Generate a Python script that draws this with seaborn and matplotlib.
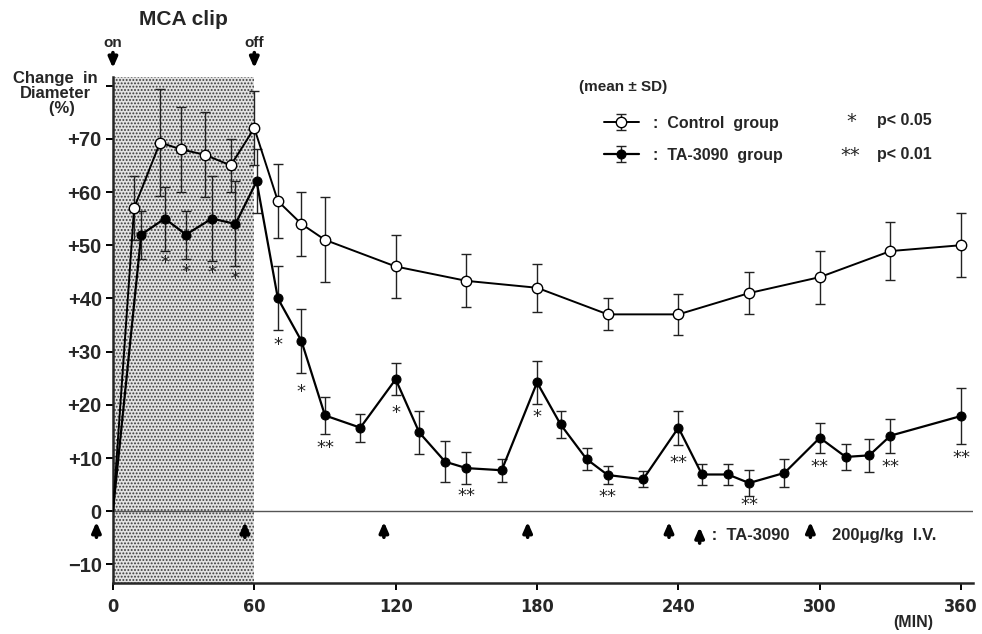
import numpy as np
import pandas as pd
import seaborn as sns
import matplotlib
matplotlib.use("Agg")
import matplotlib.pyplot as plt
from matplotlib.legend_handler import HandlerTuple

# ---------------- data ----------------
ctrl_t = [0, 9, 20, 29, 39, 50, 60, 70, 80, 90, 120, 150, 180, 210, 240, 270, 300, 330, 360]
ctrl_v = [0, 57, 69.3, 68, 67, 65, 72, 58.3, 54, 51, 46, 43.3, 42, 37, 37, 41, 44, 48.9, 50]
ctrl_sd = [0, 6, 10, 8, 8, 5, 7, 7, 6, 8, 6, 5, 4.5, 3, 3.8, 4, 5, 5.5, 6]

ta_t = [0, 12, 22, 31, 42, 52, 61, 70, 80, 90, 105, 120, 130, 141, 150, 165, 180, 190,
        201, 210, 225, 240, 250, 261, 270, 285, 300, 311, 321, 330, 360]
ta_v = [0, 52, 55, 52, 55, 54, 62, 40, 32, 18, 15.7, 24.8, 14.8, 9.3, 8.1, 7.7, 24.2, 16.3,
        9.8, 6.8, 6, 15.7, 6.9, 6.9, 5.3, 7.2, 13.8, 10.2, 10.5, 14.2, 17.9]
ta_sd = [0, 4.5, 6, 4.5, 8, 8, 6, 6, 6, 3.5, 2.6, 3, 4, 3.9, 3, 2.2, 4, 2.5,
         2, 1.7, 1.5, 3.2, 2, 2, 2.5, 2.7, 2.8, 2.5, 3.1, 3.2, 5.3]

sig_t = [22, 31, 42, 52, 70, 80, 90, 120, 150, 180, 210, 240, 270, 300, 330, 360]
sig_y = [46.6, 45, 44.7, 43.6, 31.2, 22.4, 11.8, 18.4, 2.8, 17.7, 2.6, 9, 1.1, 8.3, 8.3, 10]
sig_lbl = ['*', '*', '*', '*', '*', '*', '**', '*', '**', '*', '**', '**', '**', '**', '**', '**']

dose_t = [-7, 56, 115, 176, 236, 296]   # TA-3090 injection times

clip_on, clip_off = 0, 60
x_ticks = [0, 60, 120, 180, 240, 300, 360]
x_labels = ['0', '60', '120', '180', '240', '300', '360']
y_ticks = [-10, 0, 10, 20, 30, 40, 50, 60, 70, 80]
y_labels = ['\u221210', '0', '+10', '+20', '+30', '+40', '+50', '+60', '+70', '']

ctrl = pd.DataFrame({'t': ctrl_t, 'v': ctrl_v, 'sd': ctrl_sd})
ta = pd.DataFrame({'t': ta_t, 'v': ta_v, 'sd': ta_sd})

# ---------------- style ----------------
sns.set_theme(style='ticks')
plt.rcParams['font.family'] = ['Liberation Sans', 'DejaVu Sans']
plt.rcParams['hatch.linewidth'] = 0.9

fig = plt.figure(figsize=(9.82, 6.34), dpi=100)
ax = fig.add_axes([0.115, 0.0804, 0.8758, 0.798])

# stippled MCA clip period
ax.axvspan(clip_on, clip_off, facecolor='#e2e2e2', edgecolor='#3a3a3a',
           hatch='.....', linewidth=0, zorder=0)
ax.axhline(0, color='#555555', lw=1.0, zorder=1)

# error bars
eb_c = ax.errorbar(ctrl['t'][1:], ctrl['v'][1:], yerr=ctrl['sd'][1:], fmt='none',
                   ecolor='#222222', elinewidth=1.0, capsize=3.5, capthick=1.0, zorder=2)
eb_t = ax.errorbar(ta['t'][1:], ta['v'][1:], yerr=ta['sd'][1:], fmt='none',
                   ecolor='#222222', elinewidth=1.0, capsize=3.5, capthick=1.0, zorder=2)

# lines with markers (no marker at the origin)
sns.lineplot(data=ctrl, x='t', y='v', ax=ax, color='black', lw=1.4, marker='o',
             markersize=7.5, markerfacecolor='white', markeredgecolor='black',
             markeredgewidth=1.0, zorder=4, sort=False,
             markevery=list(range(1, len(ctrl_t))))
ln_c = ax.lines[-1]
sns.lineplot(data=ta, x='t', y='v', ax=ax, color='black', lw=1.6, marker='o',
             markersize=6.5, markerfacecolor='black', markeredgecolor='black',
             zorder=5, sort=False, markevery=list(range(1, len(ta_t))))
ln_t = ax.lines[-1]

# significance asterisks
for t, y, s in zip(sig_t, sig_y, sig_lbl):
    ax.text(t, y, s, ha='center', va='center', fontsize=13, family='DejaVu Sans',
            color='#222222')

# axes
ax.set_xlim(0, 365)
ax.set_ylim(-13.5, 81.6)
ax.set_xticks(x_ticks)
ax.set_xticklabels(x_labels, fontsize=13, fontweight='bold', family='DejaVu Sans',
                   fontstretch='condensed')
ax.set_yticks(y_ticks)
ax.set_yticklabels(y_labels, fontsize=14.5, fontweight='bold')
ax.set_xlabel('')
ax.set_ylabel('')
for s in ['top', 'right']:
    ax.spines[s].set_visible(False)
ax.spines['left'].set_linewidth(1.8)
ax.spines['bottom'].set_linewidth(1.8)
ax.tick_params(axis='both', direction='out', length=5, width=1.4, color='black')
ax.tick_params(axis='x', pad=6)
ax.tick_params(axis='y', pad=3)

arrow_kw = dict(arrowstyle='-|>,head_length=0.5,head_width=0.22', lw=2.6, color='black',
                mutation_scale=12, shrinkA=0, shrinkB=0)

# clip on / off arrows
for t, lbl in [(clip_on, 'on'), (clip_off, 'off')]:
    ax.annotate('', xy=(t, 83.3), xytext=(t, 86.2), arrowprops=arrow_kw,
                annotation_clip=False)
    ax.text(t, 86.7, lbl, ha='center', va='bottom', fontsize=11, fontweight='bold',
            clip_on=False)
ax.text((clip_on + clip_off) / 2, 90.6, 'MCA clip', ha='center', va='bottom',
        fontsize=15, fontweight='bold', clip_on=False)

# TA-3090 dose arrows
for t in dose_t:
    ax.annotate('', xy=(t, -2.0), xytext=(t, -4.9), arrowprops=arrow_kw,
                annotation_clip=False)

# y-axis title
fig.text(0.056, 0.853, 'Change  in\nDiameter\n   (%)', ha='center', va='center',
         fontsize=12, fontweight='bold', linespacing=1.0)

# legend
leg = ax.legend([(eb_c, ln_c), (eb_t, ln_t)], [':  Control  group', ':  TA-3090  group'],
                handler_map={tuple: HandlerTuple(ndivide=1)},
                loc='upper left', bbox_to_anchor=(0.600, 0.840), bbox_transform=fig.transFigure,
                frameon=False, handlelength=2.2, handletextpad=0.9, labelspacing=1.05,
                prop={'size': 11.5, 'weight': 'bold'})
fig.text(0.590, 0.862, '(mean \u00b1 SD)', fontsize=11, fontweight='bold', va='center')
fig.text(0.862, 0.808, '*', fontsize=14, family='DejaVu Sans', va='center')
fig.text(0.893, 0.810, 'p< 0.05', fontsize=11.5, fontweight='bold', va='center')
fig.text(0.856, 0.754, '**', fontsize=14, family='DejaVu Sans', va='center')
fig.text(0.893, 0.756, 'p< 0.01', fontsize=11.5, fontweight='bold', va='center')

# dose legend
ax.annotate('', xy=(249, -3.0), xytext=(249, -6.0), arrowprops=arrow_kw,
            annotation_clip=False)
ax.text(252, -4.6, ' :  TA-3090', fontsize=12, va='center', fontweight='bold')
ax.text(305, -4.6, '200\u03bcg/kg  I.V.', fontsize=12, va='center', fontweight='bold')

fig.text(0.930, 0.018, '(MIN)', fontsize=11.5, fontweight='bold', ha='center', va='center')

fig.savefig('out.png', dpi=100, facecolor='white')
